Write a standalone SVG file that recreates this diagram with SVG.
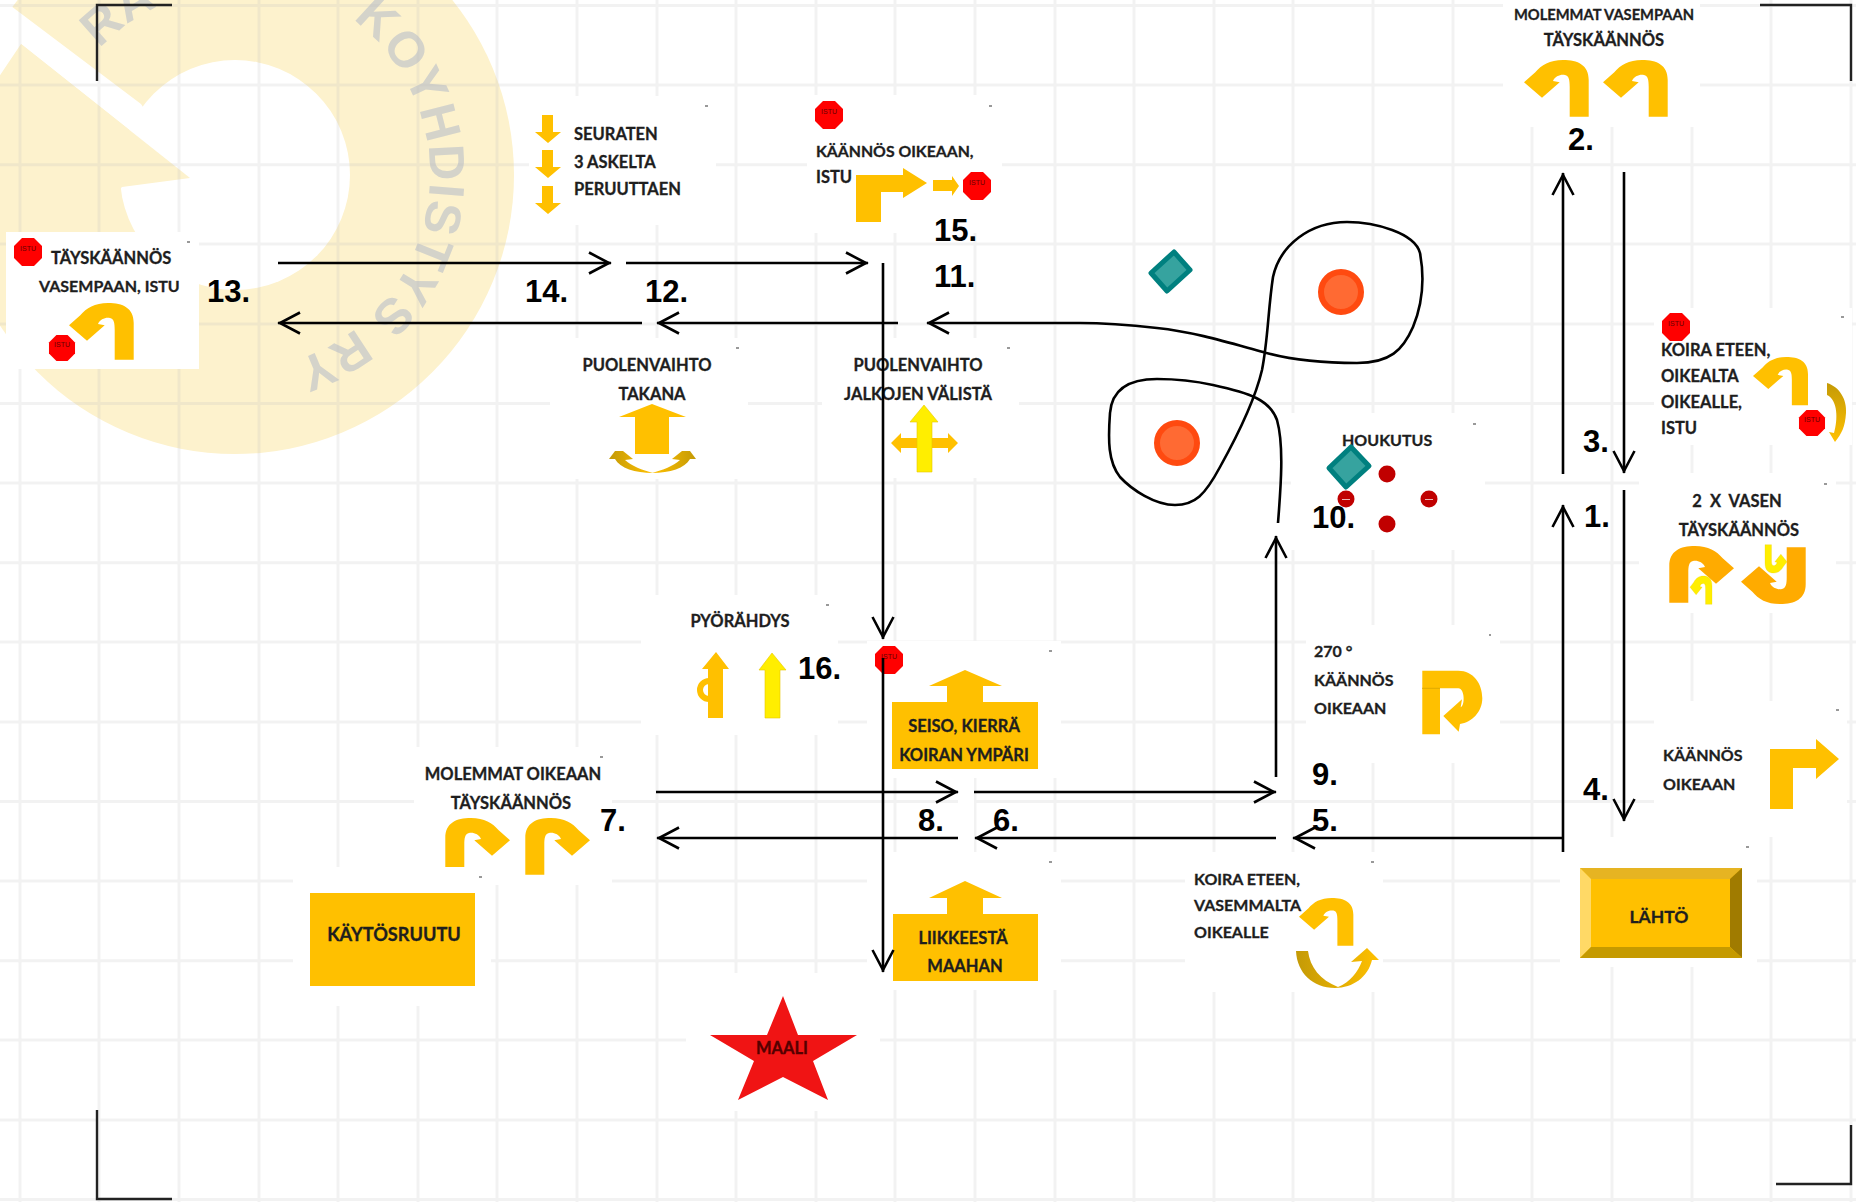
<svg xmlns="http://www.w3.org/2000/svg" xmlns:xlink="http://www.w3.org/1999/xlink" width="1856" height="1202" viewBox="0 0 1856 1202">
<style>
.t{font-family:Lato,"Open Sans","Liberation Sans",sans-serif;font-weight:700;font-size:16.5px;fill:#1e1e1e;stroke:#1e1e1e;stroke-width:.3}
.c{text-anchor:middle}
.n{font-family:"Liberation Sans",Arial,sans-serif;font-weight:700;font-size:31px;fill:#000}
.i{font-family:"Liberation Sans",Arial,sans-serif;font-size:7px;fill:#600;text-anchor:middle}
.w{font-family:"Liberation Sans",Arial,sans-serif;font-weight:700;font-size:50px;fill:#d4d3ca}
.box{fill:#fff}
.g{fill:#ffc000}
.y{fill:#ffee00;stroke:#e8c800;stroke-width:.6}
.o{fill:#ffab00}
.red{fill:#ff0000}
.dia{fill:#36a39f;stroke:#00807f;stroke-width:5;stroke-linejoin:round}
.pyl{fill:#ff6a33;stroke:#ff4a10;stroke-width:6}
.dot{fill:#c00000}
.sp{fill:#999}
.ln{fill:none;stroke:#000;stroke-width:2.6}
</style>
<defs>
<path id="uturn" d="M64.7 56.7V20C64.7 5 54 0 39 0C25.7 0 17.3 5 11.3 12.3L0 22.3L18 37.7L35.7 22.3L29 21C31 16 37 14 41 15C45 16 45.7 20 45.7 26.7V56.7Z"/>
<polygon id="oct" points="-6,-14 6,-14 14,-6 14,6 6,14 -6,14 -14,6 -14,-6"/>
<marker id="v" markerUnits="userSpaceOnUse" markerWidth="26" markerHeight="28" refX="24" refY="13" orient="auto" overflow="visible">
<path d="M2 2.5L22 13L2 23.5" fill="none" stroke="#000" stroke-width="2.6"/>
</marker>
<linearGradient id="gold" x1="0" y1="0" x2="1" y2="0"><stop offset="0" stop-color="#c49a06"/><stop offset="1" stop-color="#ffc000"/></linearGradient>
<linearGradient id="gold2" x1="0" y1="0" x2="0" y2="1"><stop offset="0" stop-color="#c49a06"/><stop offset="1" stop-color="#ffc000"/></linearGradient>
<path id="wr" d="M99.7 48.8A185 185 0 0 1 235 -10"/>
<path id="wk" d="M352.4 19.3A195 195 0 0 1 430 175A195 195 0 0 1 300 359A195 195 0 0 1 170 359"/>
</defs>

<rect width="1856" height="1202" fill="#fff"/>

<g id="watermark">
<circle cx="235" cy="175" r="279" fill="#fdf2cd"/>
<circle cx="235" cy="175" r="115" fill="#fff"/>
<polygon points="-10,-5 11,6 141,104 190,178 21,44 -10,90" fill="#fff"/>
<polygon points="21,44 190,178 122,187 110,200 60,190 30,100" fill="#fdf2cd"/>
<text class="w"><textPath href="#wr" xlink:href="#wr">RA</textPath></text>
<text class="w" letter-spacing="1.5"><textPath href="#wk" xlink:href="#wk">KOYHDISTYS RY</textPath></text>
</g>

<path id="grid" fill="none" stroke="#bdbdbd" stroke-opacity=".2" stroke-width="3" d="M20 0V1202M99 0V1202M179 0V1202M259 0V1202M338 0V1202M418 0V1202M497 0V1202M577 0V1202M657 0V1202M736 0V1202M816 0V1202M895 0V1202M975 0V1202M1055 0V1202M1134 0V1202M1214 0V1202M1293 0V1202M1373 0V1202M1453 0V1202M1532 0V1202M1612 0V1202M1692 0V1202M1771 0V1202M1851 0V1202M0 5.5H1856M0 85H1856M0 164.7H1856M0 244H1856M0 324H1856M0 403.5H1856M0 483H1856M0 562.7H1856M0 642H1856M0 722H1856M0 801.5H1856M0 881H1856M0 960.7H1856M0 1040H1856M0 1120H1856M0 1199.5H1856"/>

<g id="corners" fill="none" stroke="#222" stroke-width="2.4">
<path d="M97 81V5H172"/><path d="M1760 5H1851V81"/><path d="M97 1110V1199H172"/><path d="M1851 1125V1184H1776"/>
</g>

<g id="node-13">
<rect class="box" x="6" y="232" width="193" height="137"/>
<rect class="sp" x="187" y="241" width="3" height="2"/>
<use href="#oct" xlink:href="#oct" class="red" transform="translate(28 252)"/><text class="i" x="28" y="251">ISTU</text>
<text class="t" x="51" y="264">TÄYSKÄÄNNÖS</text>
<text class="t" x="39" y="292" style="font-size:16px">VASEMPAAN, ISTU</text>
<use href="#uturn" xlink:href="#uturn" class="g" transform="translate(69 303)"/>
<use href="#oct" xlink:href="#oct" class="red" transform="translate(62 348) scale(.93)"/><text class="i" x="62" y="347">ISTU</text>
</g>

<g id="node-14">
<rect class="box" x="529" y="96" width="187" height="129"/>
<rect class="sp" x="705" y="105" width="3" height="2"/>
<path class="g" d="M542 115H553V132H561L548 143L535 132H542Z"/>
<path class="g" d="M542 150H553V167H561L548 178L535 167H542Z"/>
<path class="g" d="M542 186H553V203H561L548 214L535 203H542Z"/>
<text class="t" x="574" y="140">SEURATEN</text>
<text class="t" x="574" y="168">3 ASKELTA</text>
<text class="t" x="574" y="195">PERUUTTAEN</text>
</g>

<g id="node-15">
<rect class="box" x="807" y="95" width="195" height="138"/>
<rect class="sp" x="989" y="105" width="3" height="2"/>
<use href="#oct" xlink:href="#oct" class="red" transform="translate(829 115)"/><text class="i" x="829" y="114">ISTU</text>
<text class="t" x="816" y="157" style="font-size:15.8px">KÄÄNNÖS OIKEAAN,</text>
<text class="t" x="816" y="183">ISTU</text>
<path class="g" d="M856 222V175H903V168L927 183L903 198V192H881V222Z"/>
<path class="g" d="M933 180H952V176L959 186L952 196V191H933Z"/>
<use href="#oct" xlink:href="#oct" class="red" transform="translate(977 186)"/><text class="i" x="977" y="185">ISTU</text>
</g>

<g id="node-12">
<rect class="box" x="550" y="338" width="198" height="141"/>
<rect class="sp" x="736" y="347" width="3" height="2"/>
<text class="t c" x="647" y="371">PUOLENVAIHTO</text>
<text class="t c" x="652" y="400">TAKANA</text>
<path class="g" d="M652 404L686 417H669V454H635V417H619Z"/>
<path fill="url(#gold)" d="M609 459L615 451H623L633 459L625 460C632 466 642 470 653 473C635 473 620 468 615 459Z"/>
<path fill="url(#gold)" transform="matrix(-1 0 0 1 1305 0)" d="M609 459L615 451H623L633 459L625 460C632 466 642 470 653 473C635 473 620 468 615 459Z"/>
</g>

<g id="node-11">
<rect class="box" x="822" y="338" width="197" height="140"/>
<rect class="sp" x="1007" y="347" width="3" height="2"/>
<text class="t c" x="918" y="371">PUOLENVAIHTO</text>
<text class="t c" x="918" y="400">JALKOJEN VÄLISTÄ</text>
<path class="g" d="M891 443L901 433V438H948V433L958 443L948 453V448H901V453Z"/>
<path class="y" d="M924 405L938 422H932V472H917V422H910Z"/>
</g>

<g id="node-2">
<rect class="box" x="1503" y="0" width="197" height="127"/>
<text class="t c" x="1604" y="20" style="font-size:14.7px">MOLEMMAT VASEMPAAN</text>
<text class="t c" x="1604" y="46">TÄYSKÄÄNNÖS</text>
<use href="#uturn" xlink:href="#uturn" class="g" transform="translate(1524 60)"/>
<use href="#uturn" xlink:href="#uturn" class="g" transform="translate(1603 60)"/>
</g>

<g id="node-3">
<rect class="box" x="1654" y="308" width="198" height="137"/>
<rect class="sp" x="1841" y="316" width="3" height="2"/>
<use href="#oct" xlink:href="#oct" class="red" transform="translate(1676 327)"/><text class="i" x="1676" y="326">ISTU</text>
<text class="t" x="1661" y="356">KOIRA ETEEN,</text>
<text class="t" x="1661" y="382">OIKEALTA</text>
<text class="t" x="1661" y="408">OIKEALLE,</text>
<text class="t" x="1661" y="434">ISTU</text>
<use href="#uturn" xlink:href="#uturn" class="g" transform="translate(1753 357) scale(.85)"/>
<use href="#oct" xlink:href="#oct" class="red" transform="translate(1812 423) scale(.93)"/><text class="i" x="1812" y="422">ISTU</text>
<path fill="url(#gold2)" d="M1827 383C1840 387 1847 400 1846 413C1845 427 1842 433 1835 442L1829 432L1834 433C1838 420 1838 400 1827 395Z"/>
</g>

<g id="node-1">
<rect class="box" x="1639" y="473" width="197" height="140"/>
<rect class="sp" x="1824" y="483" width="3" height="2"/>
<text class="t c" x="1737" y="507" xml:space="preserve">2  X  VASEN</text>
<text class="t c" x="1739" y="536">TÄYSKÄÄNNÖS</text>
<use href="#uturn" xlink:href="#uturn" class="o" transform="translate(1734 546) scale(-1 1)"/>
<use href="#uturn" xlink:href="#uturn" class="y" transform="translate(1690 576) scale(.34 .5)"/>
<use href="#uturn" xlink:href="#uturn" class="o" transform="translate(1741 604) scale(1 -1)"/>
<use href="#uturn" xlink:href="#uturn" class="y" transform="translate(1787 573) rotate(180) scale(.34 .5)"/>
</g>

<g id="node-4">
<rect class="box" x="1654" y="701" width="193" height="136"/>
<rect class="sp" x="1836" y="709" width="3" height="2"/>
<text class="t" x="1663" y="761" style="font-size:16px">KÄÄNNÖS</text>
<text class="t" x="1663" y="790" style="font-size:16px">OIKEAAN</text>
<path class="g" d="M1770 809V749H1816V739L1839 759L1816 779V768H1793V809Z"/>
</g>

<g id="node-lahto">
<rect class="box" x="1560" y="837" width="197" height="130"/>
<rect class="sp" x="1746" y="846" width="3" height="2"/>
<rect x="1580" y="868" width="162" height="90" fill="#ffc000"/>
<polygon points="1580,868 1742,868 1730,879 1591,879" fill="#e6b422"/>
<polygon points="1580,868 1591,879 1591,947 1580,958" fill="#ffd966"/>
<polygon points="1742,868 1742,958 1730,947 1730,879" fill="#a07b00"/>
<polygon points="1580,958 1591,947 1730,947 1742,958" fill="#c59a00"/>
<text class="t c" x="1659" y="923" style="font-size:17.5px">LÄHTÖ</text>
</g>

<g id="node-5">
<rect class="box" x="1185" y="852" width="198" height="140"/>
<rect class="sp" x="1371" y="861" width="3" height="2"/>
<text class="t" x="1194" y="885" style="font-size:16px">KOIRA ETEEN,</text>
<text class="t" x="1194" y="911" style="font-size:16px">VASEMMALTA</text>
<text class="t" x="1194" y="938" style="font-size:16px">OIKEALLE</text>
<use href="#uturn" xlink:href="#uturn" class="g" transform="translate(1299 898) scale(.84)"/>
<path fill="url(#gold)" d="M1296 951H1308C1310 967 1320 980 1338 987C1350 982 1358 972 1362 961L1351 962L1367 948L1379 960H1372C1368 977 1353 988 1335 988C1313 988 1297 973 1296 951Z"/>
</g>

<g id="node-9">
<rect class="box" x="1306" y="625" width="194" height="138"/>
<rect class="sp" x="1489" y="634" width="2" height="2"/>
<text class="t" x="1314" y="657" style="font-size:16px">270 °</text>
<text class="t" x="1314" y="686" style="font-size:16px">KÄÄNNÖS</text>
<text class="t" x="1314" y="714" style="font-size:16px">OIKEAAN</text>
<path class="g" d="M1422.3 670.7H1458.3C1473.3 670.7 1482.3 683.3 1482.3 698.3C1482.3 711.7 1471.7 722.7 1460 724L1458.7 731.7L1443.3 716L1462 699.3L1460.7 707.3C1465 706 1465 688.3 1458.3 688.3H1440V734.3H1422.3Z"/>
<path d="M1422 688.3H1440" stroke="#d6a300" stroke-width=".8" fill="none"/>
</g>

<g id="node-10">
<rect class="box" x="1291" y="413" width="194" height="137"/>
<rect class="sp" x="1473" y="423" width="3" height="2"/>
<text class="t" x="1342" y="446" style="font-size:16px">HOUKUTUS</text>
<circle class="dot" cx="1387" cy="474" r="8.5"/>
<circle class="dot" cx="1346" cy="499" r="8.5"/><rect x="1342" y="499" width="8" height="1" fill="#fff" fill-opacity=".7"/>
<circle class="dot" cx="1429" cy="499" r="8.5"/><rect x="1425" y="499" width="8" height="1" fill="#fff" fill-opacity=".7"/>
<circle class="dot" cx="1387" cy="524" r="8.5"/>
<polygon class="dia" points="1351,447 1369,466 1346,487 1329,468"/>
</g>

<g id="obstacles">
<polygon class="dia" points="1174,252 1190,270 1167,291 1151,273"/>
<circle class="pyl" cx="1341" cy="292" r="20"/>
<circle class="pyl" cx="1177" cy="443" r="20"/>
</g>

<g id="node-16">
<rect class="box" x="641" y="595" width="197" height="140"/>
<rect class="sp" x="826" y="604" width="3" height="2"/>
<text class="t c" x="740" y="627">PYÖRÄHDYS</text>
<path class="g" d="M716 652L729 669H723V718H708V669H702Z"/>
<circle cx="709" cy="690" r="9" fill="none" stroke="#ffc000" stroke-width="6"/>
<path class="y" d="M772 653L786 670H780V718H765V670H759Z"/>
</g>

<g id="node-seiso">
<rect class="box" x="867" y="641" width="194" height="137"/>
<rect class="sp" x="1049" y="650" width="3" height="2"/>
<use href="#oct" xlink:href="#oct" class="red" transform="translate(889 660)"/><text class="i" x="889" y="659">ISTU</text>
<path class="g" d="M965 670L1002 686H983V702H1038V769H892V702H947V686H929Z"/>
<text class="t c" x="964" y="732">SEISO, KIERRÄ</text>
<text class="t c" x="964" y="761">KOIRAN YMPÄRI</text>
</g>

<g id="node-liike">
<rect class="box" x="867" y="852" width="194" height="138"/>
<rect class="sp" x="1049" y="861" width="3" height="2"/>
<path class="g" d="M965 881L1002 898H983V914H1038V981H893V914H947V898H929Z"/>
<text class="t c" x="963" y="944">LIIKKEESTÄ</text>
<text class="t c" x="965" y="972">MAAHAN</text>
</g>

<g id="node-maali">
<rect class="box" x="686" y="973" width="194" height="138"/>
<polygon points="783,996 798,1035 857,1035 813,1061 828,1100 783,1077 738,1100 754,1061 710,1035 767,1035" fill="#f01414"/>
<text class="t c" x="782" y="1054" style="fill:#500;stroke:#500">MAALI</text>
</g>

<g id="node-7">
<rect class="box" x="414" y="747" width="198" height="138"/>
<rect class="sp" x="600" y="756" width="3" height="2"/>
<text class="t c" x="513" y="780">MOLEMMAT OIKEAAN</text>
<text class="t c" x="511" y="809">TÄYSKÄÄNNÖS</text>
<use href="#uturn" xlink:href="#uturn" class="g" transform="translate(510 818) scale(-1 1)"/>
<use href="#uturn" xlink:href="#uturn" class="g" transform="translate(590 818) scale(-1 1)"/>
</g>

<g id="node-kaytos">
<rect class="box" x="293" y="867" width="198" height="139"/>
<rect class="sp" x="479" y="876" width="3" height="2"/>
<rect x="310" y="893" width="165" height="93" fill="#ffc000"/>
<text class="t c" x="394" y="941" style="font-size:18.2px">KÄYTÖSRUUTU</text>
</g>

<rect class="box" x="958" y="778" width="16" height="74"/>

<g id="connectors">
<path class="ln" marker-end="url(#v)" d="M1563 852V505"/>
<path class="ln" marker-end="url(#v)" d="M1563 838H1293"/>
<path class="ln" marker-end="url(#v)" d="M1276 838H975"/>
<path class="ln" marker-end="url(#v)" d="M958 838H657"/>
<path class="ln" marker-end="url(#v)" d="M656 792H958"/>
<path class="ln" marker-end="url(#v)" d="M974 792H1276"/>
<path class="ln" marker-end="url(#v)" d="M1276 777V536"/>
<path class="ln" marker-end="url(#v)" d="M1278 523C1281 485 1284 445 1277 420C1270 400 1250 393 1213 385C1195 381 1175 379 1157 379C1130 379 1112 388 1110 413C1108 440 1108 462 1120 477C1132 490 1155 505 1175 505C1195 505 1205 495 1220 467C1235 440 1255 400 1262 370C1268 340 1268 310 1273 277C1280 245 1310 222 1347 222C1375 222 1415 233 1420 253C1425 280 1422 305 1413 327C1403 350 1390 363 1357 363C1325 363 1290 360 1263 352C1230 343 1195 332 1157 328C1130 325 1105 323 1080 323L927 323"/>
<path class="ln" marker-end="url(#v)" d="M898 323H657"/>
<path class="ln" marker-end="url(#v)" d="M642 323H278"/>
<path class="ln" marker-end="url(#v)" d="M278 263H611"/>
<path class="ln" marker-end="url(#v)" d="M626 263H868"/>
<path class="ln" marker-end="url(#v)" d="M883 263V639"/>
<path class="ln" marker-end="url(#v)" d="M883 658V972"/>
<path class="ln" marker-end="url(#v)" d="M1563 474V173"/>
<path class="ln" marker-end="url(#v)" d="M1624 172V473"/>
<path class="ln" marker-end="url(#v)" d="M1624 490V821"/>
</g>

<g id="labels">
<text class="n" x="1584" y="527">1.</text>
<text class="n" x="1568" y="150">2.</text>
<text class="n" x="1583" y="452">3.</text>
<text class="n" x="1583" y="800">4.</text>
<text class="n" x="1312" y="831">5.</text>
<text class="n" x="993" y="831">6.</text>
<text class="n" x="600" y="831">7.</text>
<text class="n" x="918" y="831">8.</text>
<text class="n" x="1312" y="785">9.</text>
<text class="n" x="1312" y="528">10.</text>
<text class="n" x="934" y="287">11.</text>
<text class="n" x="645" y="302">12.</text>
<text class="n" x="207" y="302">13.</text>
<text class="n" x="525" y="302">14.</text>
<text class="n" x="934" y="241">15.</text>
<text class="n" x="798" y="679">16.</text>
</g>
</svg>
